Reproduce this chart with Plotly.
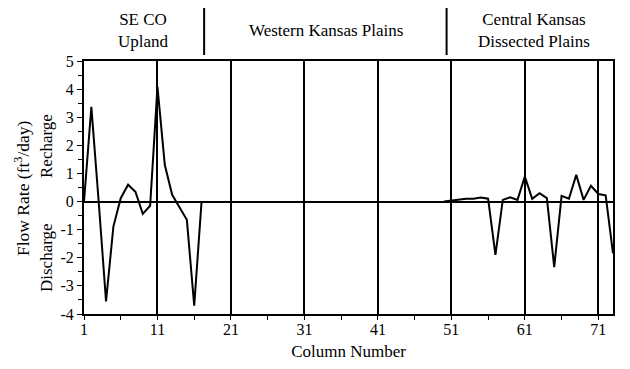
import plotly.graph_objects as go

cols_a = list(range(1, 18))
flow_a = [0.0, 3.37, 0.0, -3.55, -0.89, 0.12, 0.6, 0.35, -0.44, -0.15, 4.08, 1.3, 0.24, -0.2, -0.65, -3.7, 0.0]
cols_b = list(range(50, 74))
flow_b = [0.0, 0.03, 0.08, 0.1, 0.1, 0.14, 0.1, -1.9, 0.06, 0.15, 0.06, 0.89, 0.1, 0.3, 0.12,
          -2.33, 0.2, 0.1, 0.95, 0.06, 0.56, 0.27, 0.22, -1.84]
x_ticks = [1, 11, 21, 31, 41, 51, 61, 71]
y_ticks = [5, 4, 3, 2, 1, 0, -1, -2, -3, -4]
regions = ["SE CO<br>Upland", "Western Kansas Plains", "Central Kansas<br>Dissected Plains"]
region_centers = [9.1, 34.0, 62.2]
region_bounds = [17.35, 50.35]

FONT = "Liberation Serif, Times New Roman, serif"

# plot area in figure pixel coordinates (page has ~8px body offset)
OFF = 8
L, R, T, B = 84 - OFF, 613 - OFF, 61 - OFF, 314 - OFF
W, H = 630, 369

fig = go.Figure()
for xs, ys in [(cols_a, flow_a), (cols_b, flow_b)]:
    fig.add_trace(go.Scatter(x=xs, y=ys, mode="lines",
                             line=dict(color="black", width=2), showlegend=False))

fig.update_layout(
    width=W, height=H,
    margin=dict(l=L, r=W - R, t=T, b=H - B, autoexpand=False),
    paper_bgcolor="white", plot_bgcolor="white",
    font=dict(family=FONT, size=17, color="black"),
    xaxis=dict(range=[1, 73], tickvals=x_ticks, ticktext=[str(v) for v in x_ticks],
               ticks="outside", ticklen=4, tickwidth=1, tickcolor="black",
               showgrid=True, gridcolor="black", gridwidth=2,
               showline=True, linecolor="black", linewidth=2, mirror=True,
               zeroline=False, ticklabelstandoff=-4,
               minor=dict(tickvals=list(range(6, 73, 10)), ticks="outside", ticklen=4,
                          tickcolor="black", showgrid=False),
               title=dict(text="Column Number", font=dict(size=17), standoff=8),
               tickfont=dict(size=16)),
    yaxis=dict(range=[-4, 5], tickvals=y_ticks, ticktext=[str(v) for v in y_ticks],
               ticks="outside", ticklen=5, tickwidth=1, tickcolor="black",
               showgrid=False, zeroline=True, zerolinecolor="black", zerolinewidth=2,
               showline=True, linecolor="black", linewidth=2, mirror=True,
               minor=dict(dtick=0.5, tick0=0.5, ticks="outside", ticklen=4, tickcolor="black"),
               tickfont=dict(size=16), ticklabelstandoff=0),
)


def px_x(p):
    return (p - OFF - L) / (R - L)


def px_y(p):
    return (B - (p - OFF)) / (B - T)


for xb in region_bounds:
    fig.add_shape(type="line", xref="x", yref="paper", x0=xb, x1=xb, y0=px_y(55), y1=px_y(5),
                  line=dict(color="black", width=2))
for txt, xc in zip(regions, region_centers):
    fig.add_annotation(x=xc, xref="x", y=px_y(30), yref="paper", text=txt, showarrow=False,
                       xanchor="center", yanchor="middle",
                       font=dict(size=17), align="center")

fig.add_annotation(x=px_x(22), xref="paper", y=px_y(188), yref="paper",
                   xanchor="center", yanchor="middle",
                   text="Flow Rate (ft<sup>3</sup>/day)", textangle=-90, showarrow=False,
                   font=dict(size=17.5))
fig.add_annotation(x=px_x(46), xref="paper", y=px_y(146), yref="paper",
                   xanchor="center", yanchor="middle",
                   text="Recharge", textangle=-90, showarrow=False, font=dict(size=17))
fig.add_annotation(x=px_x(46), xref="paper", y=px_y(258), yref="paper",
                   xanchor="center", yanchor="middle",
                   text="Discharge", textangle=-90, showarrow=False, font=dict(size=17))

fig.write_html("out.html")
